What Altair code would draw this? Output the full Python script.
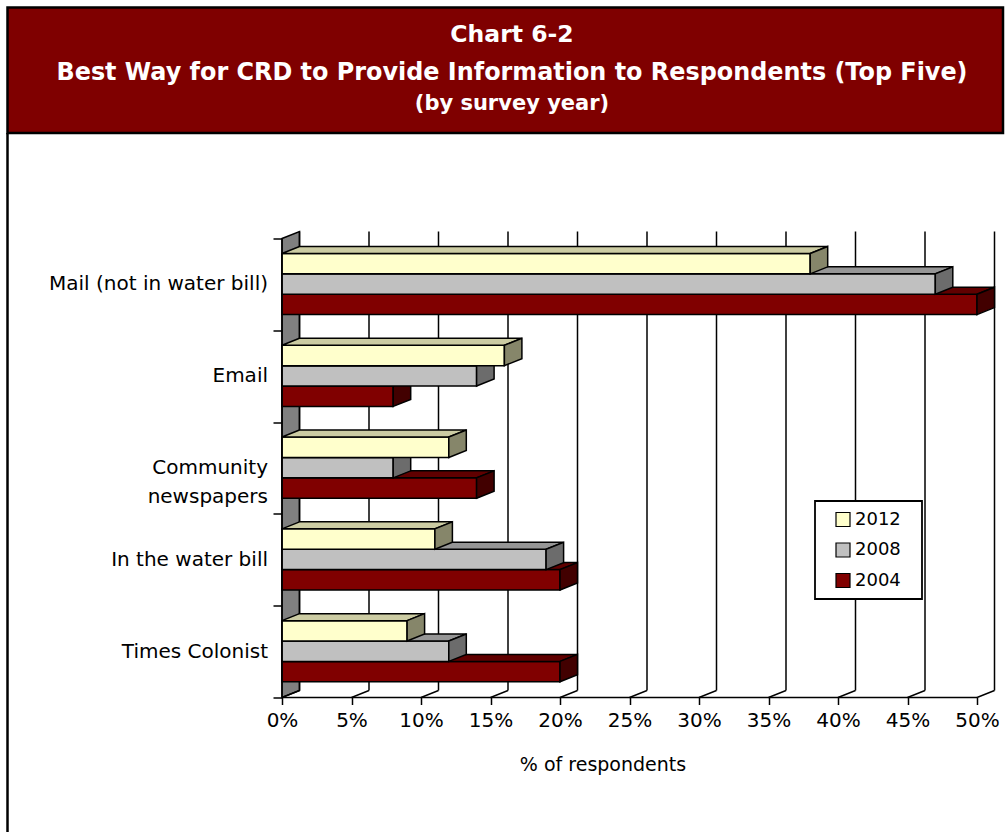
import altair as alt
import pandas as pd

# ---------------- data ----------------
categories = ["Mail (not in water bill)", "Email", "Community\nnewspapers",
              "In the water bill", "Times Colonist"]
series = ["2012", "2008", "2004"]
v2012 = [38, 16, 12, 11, 9]
v2008 = [47, 14, 8, 19, 12]
v2004 = [50, 8, 14, 20, 20]
x_ticks = [0, 5, 10, 15, 20, 25, 30, 35, 40, 45, 50]
title_lines = ["Chart 6-2",
               "Best Way for CRD to Provide Information to Respondents (Top Five)",
               "(by survey year)"]

# ---------------- style ----------------
FRONT = {"2012": "#FFFFCC", "2008": "#C0C0C0", "2004": "#800000"}
TOP = {"2012": "#CCCCA3", "2008": "#969696", "2004": "#600000"}
SIDE = {"2012": "#86866A", "2008": "#6C6C6C", "2004": "#420000"}
FONT = "DejaVu Sans"
LW = 1.5

PX_PER_PCT = 13.9
BAND_PX = 91.8
DX = 17.5 / PX_PER_PCT      # 3-D depth in % units
DY = 7.0 / BAND_PX          # 3-D depth in band units
BAR_H = 0.222
GAP0 = 0.163
NCAT = len(categories)
X_MAX = 50 + DX
Y_MAX = NCAT + DY
W = X_MAX * PX_PER_PCT
H = Y_MAX * BAND_PX
LEFT = 282
TOPPAD = 231.5

xs = alt.Scale(domain=[0, X_MAX], nice=False, zero=False)
ys = alt.Scale(domain=[0, Y_MAX], nice=False, zero=False)

XAXIS = alt.Axis(values=x_ticks, labelExpr="datum.value + '%'", title="% of respondents",
                 domain=False, grid=False, ticks=True, tickSize=7, tickColor="black",
                 tickWidth=LW, labelFontSize=20, labelFont=FONT, labelColor="black",
                 labelPadding=6, labelFlush=False, labelOverlap=False,
                 titleFont=FONT, titleFontSize=19, titleFontWeight="normal",
                 titleColor="black", titleX=320.5, titleY=66.5,
                 titleAlign="center", titleBaseline="middle")
YAXIS = alt.Axis(values=list(range(NCAT + 1)), labels=False, domain=False, grid=False,
                 ticks=True, tickSize=9, tickColor="black", tickWidth=LW, title="")


def X(field, **kw):
    return alt.X(field, scale=xs, axis=XAXIS, **kw)


def Y(field, **kw):
    return alt.Y(field, scale=ys, axis=YAXIS, **kw)


values = {"2012": v2012, "2008": v2008, "2004": v2004}

front_rows, top_rows, side_rows = [], [], []
for i, cat in enumerate(categories):
    band_top = NCAT - i
    for j, s in enumerate(series):
        yt = band_top - GAP0 - j * BAR_H
        yb = yt - BAR_H
        v = values[s][i]
        bid = f"b{i}_{s}"
        front_rows.append(dict(cat=cat, series=s, v=v, x0=0.0, yt=yt, yb=yb))
        top_rows.append(dict(bid=bid, series=s, ty=yt, tx=0.0, tx2=float(v), c=TOP[s]))
        top_rows.append(dict(bid=bid, series=s, ty=yt + DY, tx=DX, tx2=v + DX, c=TOP[s]))
        side_rows.append(dict(bid=bid, series=s, sx=float(v), sy=yb, sy2=yt, c=SIDE[s]))
        side_rows.append(dict(bid=bid, series=s, sx=v + DX, sy=yb + DY, sy2=yt + DY, c=SIDE[s]))

front_df = pd.DataFrame(front_rows)
top_df = pd.DataFrame(top_rows)
side_df = pd.DataFrame(side_rows)

wall_df = pd.DataFrame([
    dict(wx=0.0, wy=float(NCAT), wy2=0.0),
    dict(wx=DX, wy=NCAT + DY, wy2=DY),
])
grid_df = pd.DataFrame([dict(t=t, xb=t + DX, y0=DY, y1=NCAT + DY) for t in x_ticks])
floor_df = pd.DataFrame([dict(t=t, xb=t + DX, y0=0, y1=DY) for t in x_ticks])
label_df = pd.DataFrame([dict(cat=c, yc=NCAT - i - 0.5) for i, c in enumerate(categories)])
axis_df = pd.DataFrame([dict(x=0, x2=50, y=0, y2=0), dict(x=0, x2=0, y=0, y2=NCAT)])

# left wall
wall = alt.Chart(wall_df).mark_area(orient="vertical", fill="#808080", stroke="black",
                                    strokeWidth=LW, opacity=1).encode(
    x=X("wx:Q"),
    y=Y("wy:Q", stack=None),
    y2="wy2:Q",
)

# back-wall gridlines
grid = alt.Chart(grid_df).mark_rule(color="black", strokeWidth=LW).encode(
    x=X("xb:Q"), y=Y("y0:Q"), y2="y1:Q",
)

# floor diagonals
floor = alt.Chart(floor_df).mark_rule(color="black", strokeWidth=LW).encode(
    x=X("t:Q"), x2="xb:Q", y=Y("y0:Q"), y2="y1:Q",
)

# front axis lines
axis_lines = alt.Chart(axis_df).mark_rule(color="black", strokeWidth=LW).encode(
    x=X("x:Q"), x2="x2:Q", y=Y("y:Q"), y2="y2:Q",
)

# legend box (decoration behind the legend entries)
one = pd.DataFrame([{"a": 1}])
legend_box = alt.Chart(one).mark_rect(fill="white", stroke="black", strokeWidth=1.8).encode(
    x=alt.value(815 - LEFT), x2=alt.value(922 - LEFT),
    y=alt.value(501 - TOPPAD), y2=alt.value(599 - TOPPAD),
)

color_enc = alt.Color("series:N",
                      scale=alt.Scale(domain=series, range=[FRONT[s] for s in series]),
                      legend=alt.Legend(title=None, orient="none", legendX=533, legendY=269,
                                        padding=10,
                                        symbolType="square", symbolSize=196,
                                        symbolStrokeColor="black", symbolStrokeWidth=1.2,
                                        symbolOffset=9, labelOffset=3,
                                        labelFont=FONT, labelFontSize=18, labelColor="black",
                                        rowPadding=10.5))

bar_layers = []
for s in ["2004", "2008", "2012"]:
    f = alt.Chart(front_df[front_df.series == s]).mark_rect(stroke="black", strokeWidth=LW).encode(
        x=X("x0:Q"), x2="v:Q", y=Y("yb:Q"), y2="yt:Q",
        fill=color_enc,
    )
    t = alt.Chart(top_df[top_df.series == s]).mark_area(
        orient="horizontal", stroke="black", strokeWidth=LW, opacity=1).encode(
        y=Y("ty:Q"),
        x=X("tx:Q", stack=None),
        x2="tx2:Q",
        detail="bid:N",
        fill=alt.Fill("c:N", scale=None),
    )
    sd = alt.Chart(side_df[side_df.series == s]).mark_area(
        orient="vertical", stroke="black", strokeWidth=LW, opacity=1).encode(
        x=X("sx:Q"),
        y=Y("sy:Q", stack=None),
        y2="sy2:Q",
        detail="bid:N",
        fill=alt.Fill("c:N", scale=None),
    )
    bar_layers += [f, t, sd]

# category labels
cat_labels = alt.Chart(label_df).mark_text(
    align="right", baseline="middle", font=FONT, fontSize=20, color="black",
    lineBreak="\n", lineHeight=29).encode(
    x=alt.value(-14),
    y=Y("yc:Q"),
    text="cat:N",
)

# banner + frame
banner = alt.Chart(one).mark_rect(fill="#7F0000", stroke="black", strokeWidth=2.5).encode(
    x=alt.value(7.5 - LEFT), x2=alt.value(1003 - LEFT),
    y=alt.value(7.5 - TOPPAD), y2=alt.value(133 - TOPPAD),
)
frame = alt.Chart(one).mark_rule(color="black", strokeWidth=2.5).encode(
    x=alt.value(7.5 - LEFT), y=alt.value(133 - TOPPAD), y2=alt.value(832 - TOPPAD),
)
title_specs = [(title_lines[0], 42, 23.5), (title_lines[1], 80, 23.9), (title_lines[2], 110, 21)]
title_layers = []
for txt, yy, fs in title_specs:
    title_layers.append(
        alt.Chart(pd.DataFrame([{"t": txt}])).mark_text(
            align="center", baseline="alphabetic", font=FONT, fontSize=fs,
            fontWeight="bold", color="white").encode(
            x=alt.value(512 - LEFT), y=alt.value(yy - TOPPAD), text="t:N")
    )

chart = alt.layer(
    banner, frame, *title_layers,
    wall, grid, floor, *bar_layers, axis_lines, legend_box, cat_labels,
).properties(
    width=W, height=H,
    autosize=alt.AutoSizeParams(type="none"),
    padding={"left": LEFT, "top": TOPPAD, "right": 1005 - LEFT - W, "bottom": 832 - TOPPAD - H},
    background="white",
).configure_view(stroke=None)

chart.save("out.html", embed_options={"renderer": "svg", "actions": False})
